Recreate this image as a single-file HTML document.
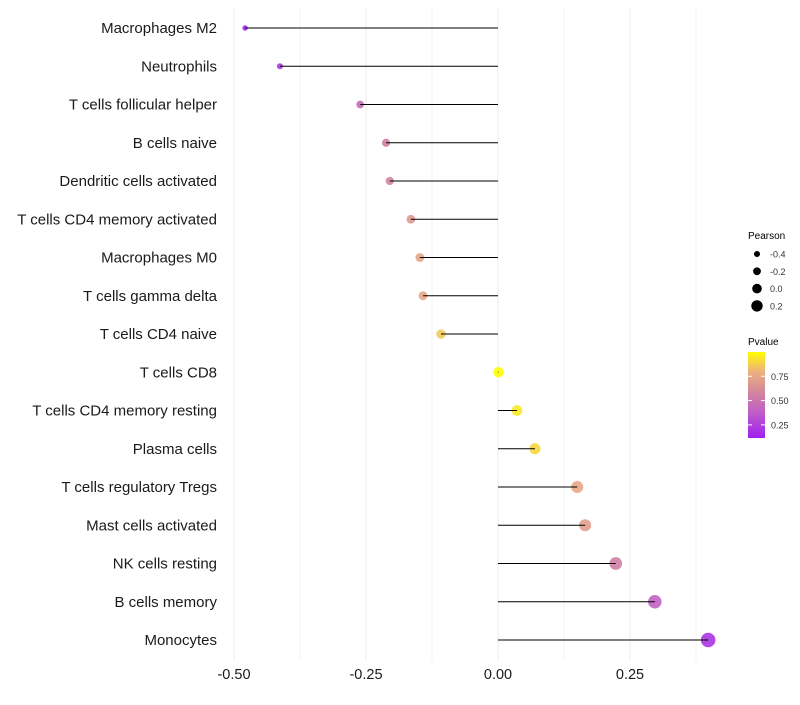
<!DOCTYPE html>
<html><head><meta charset="utf-8"><style>
body{margin:0;background:#fff;font-family:"Liberation Sans",sans-serif}
svg text{font-family:"Liberation Sans",sans-serif}
</style></head><body>
<svg id="chart" width="800" height="700">
<defs><linearGradient id="pg" x1="0" y1="1" x2="0" y2="0">
<stop offset="0" stop-color="#A020F0"/><stop offset="0.3" stop-color="#BF5EC6"/><stop offset="0.55" stop-color="#D48A9A"/><stop offset="0.77" stop-color="#EDB080"/><stop offset="1" stop-color="#FFFF00"/>
</linearGradient></defs>
<g id="grid"></g>
<g id="dots"></g>
<g id="marks"></g>
<g id="ylabels"></g>
<g id="xlabels"></g>
<g id="sizeleg">
<text x="748" y="239" font-size="10">Pearson</text>
</g>
<g>
<text x="748" y="345" font-size="10">Pvalue</text>
<rect x="748" y="352" width="17" height="86" fill="url(#pg)"/>
<g id="cticks"></g>
</g>
</svg>
<script>
const categories=["Macrophages M2","Neutrophils","T cells follicular helper","B cells naive","Dendritic cells activated","T cells CD4 memory activated","Macrophages M0","T cells gamma delta","T cells CD4 naive","T cells CD8","T cells CD4 memory resting","Plasma cells","T cells regulatory  Tregs ","Mast cells activated","NK cells resting","B cells memory","Monocytes"];
const pearson=[-0.479,-0.413,-0.261,-0.212,-0.205,-0.165,-0.148,-0.142,-0.108,0.001,0.036,0.070,0.150,0.165,0.223,0.297,0.398];
const pvalue=[0.15,0.22,0.45,0.55,0.58,0.68,0.74,0.76,0.86,1.0,0.94,0.9,0.75,0.7,0.55,0.4,0.2];
const xTicks=[-0.5,-0.25,0,0.25];
const xTickLabels=["-0.50","-0.25","0.00","0.25"];
const sizeLegendVals=[-0.4,-0.2,0.0,0.2];
const colorTicks=[0.25,0.5,0.75];
const NS="http://www.w3.org/2000/svg";
const x=v=>498+v*528;
const y=i=>28+i*38.25;
const r=v=>5.2+5.2*v;
const pmin=0.115,pmax=1.0;
const cy=p=>438-(p-pmin)/(pmax-pmin)*86;
const stops=[[0,[160,32,240]],[0.3,[191,94,198]],[0.55,[212,138,154]],[0.77,[237,176,128]],[1,[255,255,0]]];
function col(p){let t=Math.min(1,Math.max(0,(p-pmin)/(pmax-pmin)));for(let k=1;k<stops.length;k++){if(t<=stops[k][0]){const a=stops[k-1],b=stops[k];const f=(t-a[0])/(b[0]-a[0]);const c=a[1].map((v,j)=>Math.round(v+(b[1][j]-v)*f));return `rgb(${c})`;}}return "rgb(255,255,0)";}
function mk(tag,at,parent){const e=document.createElementNS(NS,tag);for(const k in at)e.setAttribute(k,at[k]);parent.appendChild(e);return e;}
const grid=document.getElementById('grid');
for(let v=-0.5;v<=0.376;v+=0.125){const g=mk('line',{x1:x(v),x2:x(v),y1:8,y2:660,stroke:"#ebebeb","stroke-width":Math.abs(v*4-Math.round(v*4))<1e-6?1:0.6},grid);

}
const marks=document.getElementById('marks'),dots=document.getElementById('dots'),yl=document.getElementById('ylabels');
categories.forEach((c,i)=>{
const d=mk('circle',{cx:x(pearson[i]),cy:y(i),r:r(pearson[i]),fill:col(pvalue[i]),"fill-opacity":0.9},dots);


const l=mk('line',{x1:x(0),x2:x(pearson[i]),y1:y(i),y2:y(i),stroke:"#000","stroke-width":1},marks);


const t=mk('text',{x:217,y:y(i)+5,"text-anchor":"end","font-size":15,fill:"#1a1a1a"},yl);t.textContent=c;


});
const xl=document.getElementById('xlabels');
xTicks.forEach((v,i)=>{const t=mk('text',{x:x(v),y:679,"text-anchor":"middle","font-size":14.5,fill:"#1a1a1a"},xl);t.textContent=xTickLabels[i];

});
const sl=document.getElementById('sizeleg');
sizeLegendVals.forEach((v,i)=>{const yy=254+i*17.3;
const c=mk('circle',{cx:757,cy:yy,r:3+i*0.9,fill:"#000"},sl);


const t=mk('text',{x:770,y:yy+3.5,"font-size":9,fill:"#333"},sl);t.textContent=v.toFixed(1);

});
const ct=document.getElementById('cticks');
colorTicks.forEach(p=>{const yy=cy(p);
const a=mk('line',{x1:748,x2:752,y1:yy,y2:yy,stroke:"#fff"},ct);


const b=mk('line',{x1:761,x2:765,y1:yy,y2:yy,stroke:"#fff"},ct);


const t=mk('text',{x:771,y:yy+3.5,"font-size":9,fill:"#333"},ct);t.textContent=p.toFixed(2);

});
</script>
</body></html>
